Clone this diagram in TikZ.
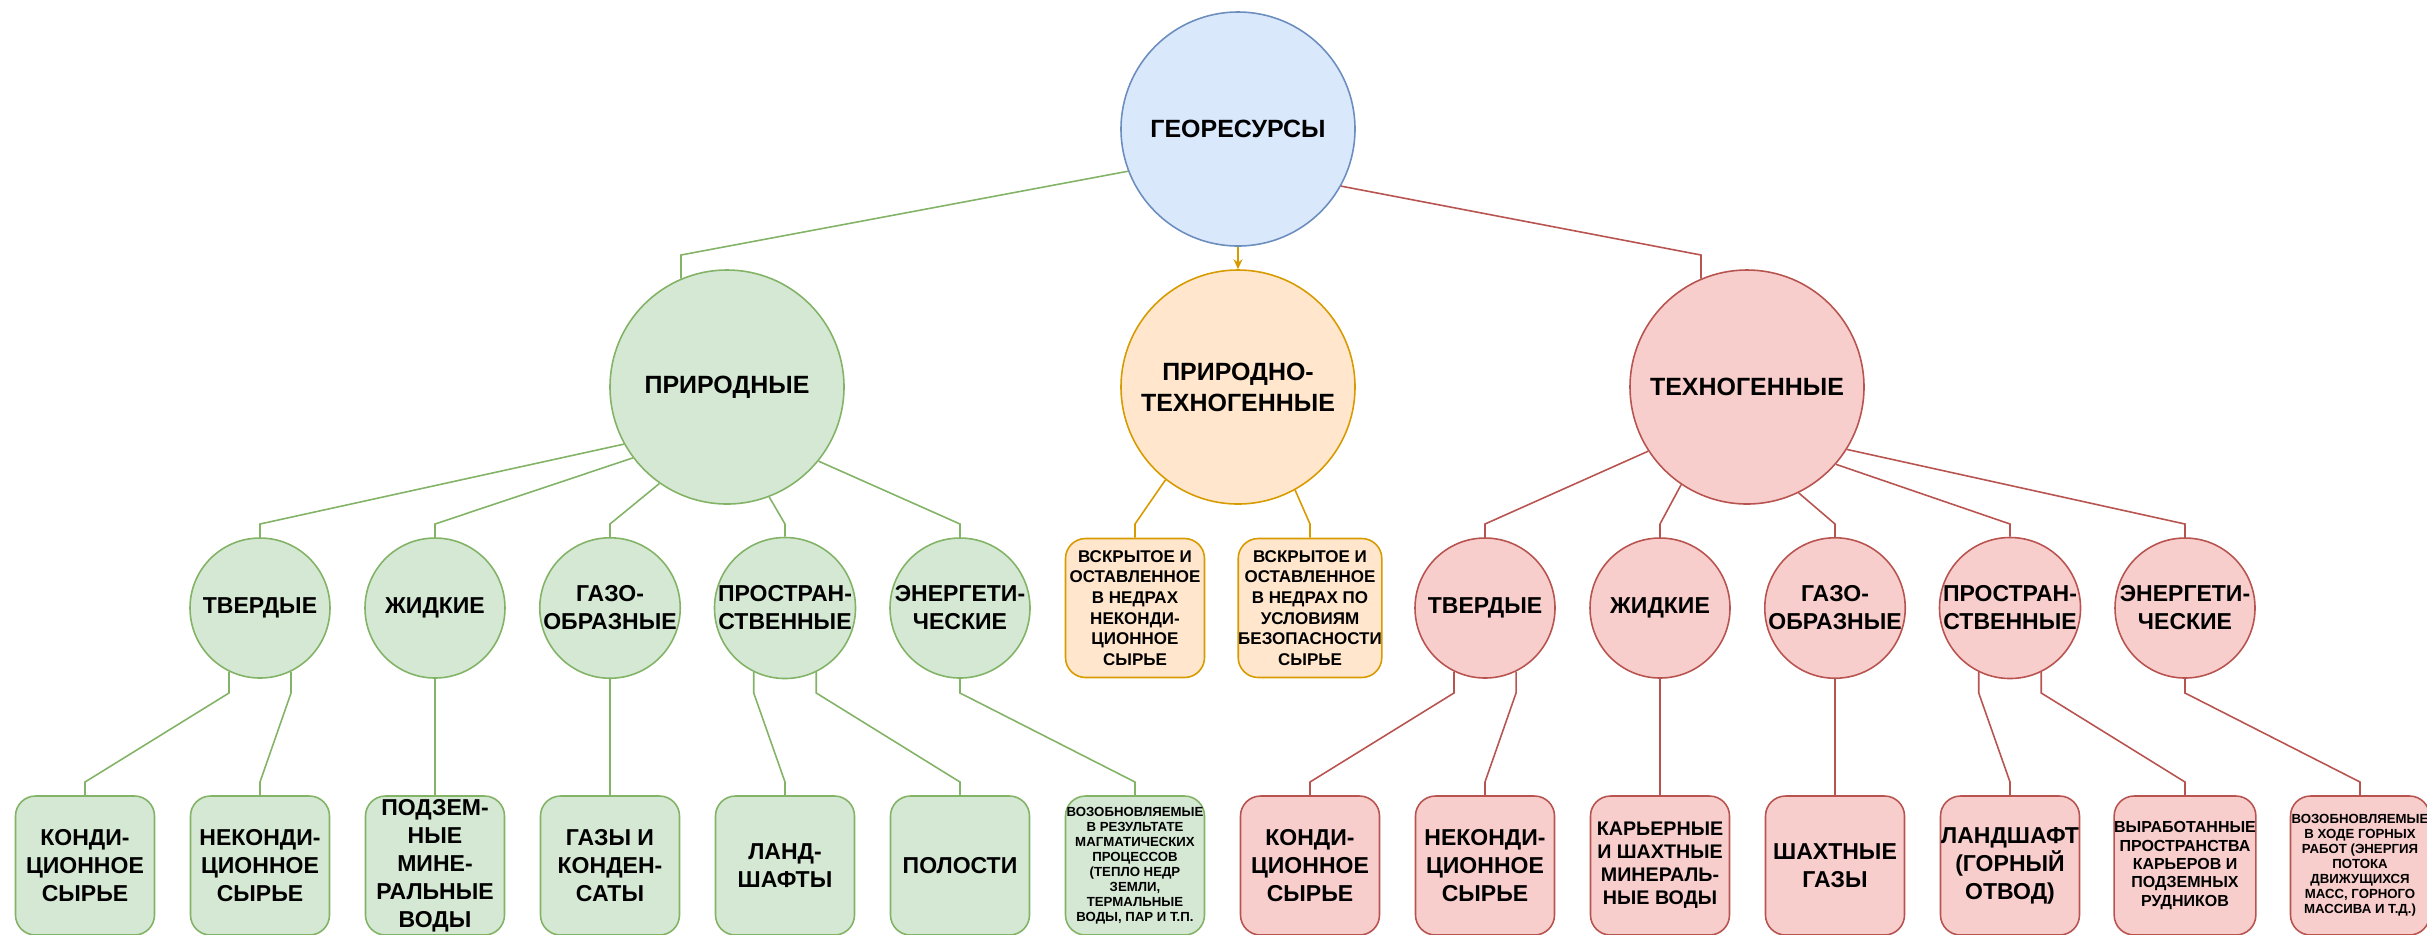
\documentclass[tikz,border=0pt]{standalone}
\usepackage{fontspec}
\setmainfont{Liberation Sans}
\usetikzlibrary{arrows.meta}
\definecolor{blueF}{HTML}{DAE8FC}
\definecolor{blueS}{HTML}{6C8EBF}
\definecolor{greenF}{HTML}{D5E8D4}
\definecolor{greenS}{HTML}{82B366}
\definecolor{orangeF}{HTML}{FFE6CC}
\definecolor{orangeS}{HTML}{D79B00}
\definecolor{redF}{HTML}{F8CECC}
\definecolor{redS}{HTML}{B85450}
\newcommand{\fRoot}{\fontsize{7.1}{8.8}\selectfont\bfseries}
\newcommand{\fKind}{\fontsize{6.55}{7.97}\selectfont\bfseries}
\newcommand{\fOrng}{\fontsize{4.84}{5.89}\selectfont\bfseries}
\newcommand{\fKar}{\fontsize{5.6}{6.54}\selectfont\bfseries}
\newcommand{\fVyr}{\fontsize{4.55}{5.2}\selectfont\bfseries}
\newcommand{\fVoz}{\fontsize{3.76}{4.27}\selectfont\bfseries}
\tikzset{
  georoot/.style={circle,draw=blueS,fill=blueF,minimum size=23.4mm,inner sep=0pt,
                  align=center,font=\fRoot,line width=0.45pt},
  classG/.style={georoot,draw=greenS,fill=greenF},
  classO/.style={georoot,draw=orangeS,fill=orangeF},
  classR/.style={georoot,draw=redS,fill=redF},
  kindG/.style={circle,draw=greenS,fill=greenF,minimum size=14mm,inner sep=0pt,
                align=center,font=\fKind,line width=0.45pt},
  kindR/.style={kindG,draw=redS,fill=redF},
  boxO/.style={rectangle,rounded corners=2mm,draw=orangeS,fill=orangeF,minimum size=13.9mm,
               inner sep=0pt,align=center,font=\fOrng,line width=0.45pt},
  itemG/.style={boxO,draw=greenS,fill=greenF,font=\fKind},
  itemR/.style={boxO,draw=redS,fill=redF,font=\fKind},
  edgeG/.style={draw=greenS,line width=0.45pt},
  edgeO/.style={draw=orangeS,line width=0.45pt},
  edgeR/.style={draw=redS,line width=0.45pt},
  arrO/.style={edgeO,-{Stealth[length=1mm,width=0.9mm]}},
}
\begin{document}
\begin{tikzpicture}[x=1cm,y=1cm]
  \useasboundingbox (0,0) rectangle (24.27,-9.34);
  % ---- levels of the bends ----
  \coordinate (lvA) at (0,-2.55);
  \coordinate (lvB) at (0,-5.24);
  \coordinate (lvC) at (0,-6.93);
  \coordinate (lvD) at (0,-7.82);
  % ---- root ----
  \node[georoot] (geo) at (12.38,-1.29) {ГЕОРЕСУРСЫ};
  % ---- groups ----
  \node[classG] (prir) at (7.27,-3.87) {ПРИРОДНЫЕ};
  \node[classO] (pt) at (12.38,-3.87) {ПРИРОДНО-\\ТЕХНОГЕННЫЕ};
  \node[classR] (tech) at (17.47,-3.87) {ТЕХНОГЕННЫЕ};
  % ---- natural kinds ----
  \node[kindG] (tv1) at (2.60,-6.08) {ТВЕРДЫЕ};
  \node[kindG] (zh1) at (4.35,-6.08) {ЖИДКИЕ};
  \node[kindG] (gz1) at (6.10,-6.08) {ГАЗО-\\ОБРАЗНЫЕ};
  \node[kindG] (pr1) at (7.85,-6.08) {ПРОСТРАН-\\СТВЕННЫЕ};
  \node[kindG] (en1) at (9.60,-6.08) {ЭНЕРГЕТИ-\\ЧЕСКИЕ};
  % ---- natural-technogenic ----
  \node[boxO] (vs1) at (11.35,-6.08) {ВСКРЫТОЕ И\\ОСТАВЛЕННОЕ\\В НЕДРАХ\\НЕКОНДИ-\\ЦИОННОЕ\\СЫРЬЕ};
  \node[boxO] (vs2) at (13.10,-6.08) {ВСКРЫТОЕ И\\ОСТАВЛЕННОЕ\\В НЕДРАХ ПО\\УСЛОВИЯМ\\БЕЗОПАСНОСТИ\\СЫРЬЕ};
  % ---- technogenic kinds ----
  \node[kindR] (tv2) at (14.85,-6.08) {ТВЕРДЫЕ};
  \node[kindR] (zh2) at (16.60,-6.08) {ЖИДКИЕ};
  \node[kindR] (gz2) at (18.35,-6.08) {ГАЗО-\\ОБРАЗНЫЕ};
  \node[kindR] (pr2) at (20.10,-6.08) {ПРОСТРАН-\\СТВЕННЫЕ};
  \node[kindR] (en2) at (21.85,-6.08) {ЭНЕРГЕТИ-\\ЧЕСКИЕ};
  % ---- natural items ----
  \node[itemG] (k1) at (0.85,-8.655) {КОНДИ-\\ЦИОННОЕ\\СЫРЬЕ};
  \node[itemG] (nk1) at (2.60,-8.655) {НЕКОНДИ-\\ЦИОННОЕ\\СЫРЬЕ};
  \node[itemG] (pv1) at (4.35,-8.655) {ПОДЗЕМ-\\НЫЕ\\МИНЕ-\\РАЛЬНЫЕ\\ВОДЫ};
  \node[itemG] (gk1) at (6.10,-8.655) {ГАЗЫ И\\КОНДЕН-\\САТЫ};
  \node[itemG] (ls1) at (7.85,-8.655) {ЛАНД-\\ШАФТЫ};
  \node[itemG] (pol1) at (9.60,-8.655) {ПОЛОСТИ};
  \node[itemG,font=\fVoz] (vz1) at (11.35,-8.655) {ВОЗОБНОВЛЯЕМЫЕ\\В РЕЗУЛЬТАТЕ\\МАГМАТИЧЕСКИХ\\ПРОЦЕССОВ\\(ТЕПЛО НЕДР\\ЗЕМЛИ,\\ТЕРМАЛЬНЫЕ\\ВОДЫ, ПАР И Т.П.};
  % ---- technogenic items ----
  \node[itemR] (k2) at (13.10,-8.655) {КОНДИ-\\ЦИОННОЕ\\СЫРЬЕ};
  \node[itemR] (nk2) at (14.85,-8.655) {НЕКОНДИ-\\ЦИОННОЕ\\СЫРЬЕ};
  \node[itemR,font=\fKar] (kr2) at (16.60,-8.655) {КАРЬЕРНЫЕ\\И ШАХТНЫЕ\\МИНЕРАЛЬ-\\НЫЕ ВОДЫ};
  \node[itemR] (sg2) at (18.35,-8.655) {ШАХТНЫЕ\\ГАЗЫ};
  \node[itemR] (ls2) at (20.10,-8.655) {ЛАНДШАФТ\\(ГОРНЫЙ\\ОТВОД)};
  \node[itemR,font=\fVyr] (vp2) at (21.85,-8.655) {ВЫРАБОТАННЫЕ\\ПРОСТРАНСТВА\\КАРЬЕРОВ И\\ПОДЗЕМНЫХ\\РУДНИКОВ};
  \node[itemR,font=\fVoz] (vz2) at (23.60,-8.655) {ВОЗОБНОВЛЯЕМЫЕ\\В ХОДЕ ГОРНЫХ\\РАБОТ (ЭНЕРГИЯ\\ПОТОКА\\ДВИЖУЩИХСЯ\\МАСС, ГОРНОГО\\МАССИВА И Т.Д.)};
  % ---- edges: root ----
  \draw[edgeG] (geo.201) -- (prir.113 |- lvA) -- (prir.113);
  \draw[edgeR] (geo.331) -- (tech.113 |- lvA) -- (tech.113);
  \draw[arrO] (geo) -- (pt);
  % ---- edges: groups ----
  \draw[edgeG] (prir.209) -- (tv1.north |- lvB) -- (tv1.north);
  \draw[edgeG] (prir.217) -- (zh1.north |- lvB) -- (zh1.north);
  \draw[edgeG] (prir.235) -- (gz1.north |- lvB) -- (gz1.north);
  \draw[edgeG] (prir.291) -- (pr1.north |- lvB) -- (pr1.north);
  \draw[edgeG] (prir.321) -- (en1.north |- lvB) -- (en1.north);
  \draw[edgeO] (pt.232) -- (vs1.north |- lvB) -- (vs1.north);
  \draw[edgeO] (pt.299) -- (vs2.north |- lvB) -- (vs2.north);
  \draw[edgeR] (tech.213) -- (tv2.north |- lvB) -- (tv2.north);
  \draw[edgeR] (tech.236) -- (zh2.north |- lvB) -- (zh2.north);
  \draw[edgeR] (tech.296) -- (gz2.north |- lvB) -- (gz2.north);
  \draw[edgeR] (tech.319) -- (pr2.north |- lvB) -- (pr2.north);
  \draw[edgeR] (tech.328) -- (en2.north |- lvB) -- (en2.north);
  % ---- edges: kinds ----
  \draw[edgeG] (tv1.244) -- (tv1.244 |- lvC) -- (k1.north |- lvD) -- (k1.north);
  \draw[edgeG] (tv1.296) -- (tv1.296 |- lvC) -- (nk1.north |- lvD) -- (nk1.north);
  \draw[edgeG] (zh1) -- (pv1);
  \draw[edgeG] (gz1) -- (gk1);
  \draw[edgeG] (pr1.244) -- (pr1.244 |- lvC) -- (ls1.north |- lvD) -- (ls1.north);
  \draw[edgeG] (pr1.296) -- (pr1.296 |- lvC) -- (pol1.north |- lvD) -- (pol1.north);
  \draw[edgeG] (en1.south) -- (en1.south |- lvC) -- (vz1.north |- lvD) -- (vz1.north);
  \draw[edgeR] (tv2.244) -- (tv2.244 |- lvC) -- (k2.north |- lvD) -- (k2.north);
  \draw[edgeR] (tv2.296) -- (tv2.296 |- lvC) -- (nk2.north |- lvD) -- (nk2.north);
  \draw[edgeR] (zh2) -- (kr2);
  \draw[edgeR] (gz2) -- (sg2);
  \draw[edgeR] (pr2.244) -- (pr2.244 |- lvC) -- (ls2.north |- lvD) -- (ls2.north);
  \draw[edgeR] (pr2.296) -- (pr2.296 |- lvC) -- (vp2.north |- lvD) -- (vp2.north);
  \draw[edgeR] (en2.south) -- (en2.south |- lvC) -- (vz2.north |- lvD) -- (vz2.north);
\end{tikzpicture}
\end{document}
